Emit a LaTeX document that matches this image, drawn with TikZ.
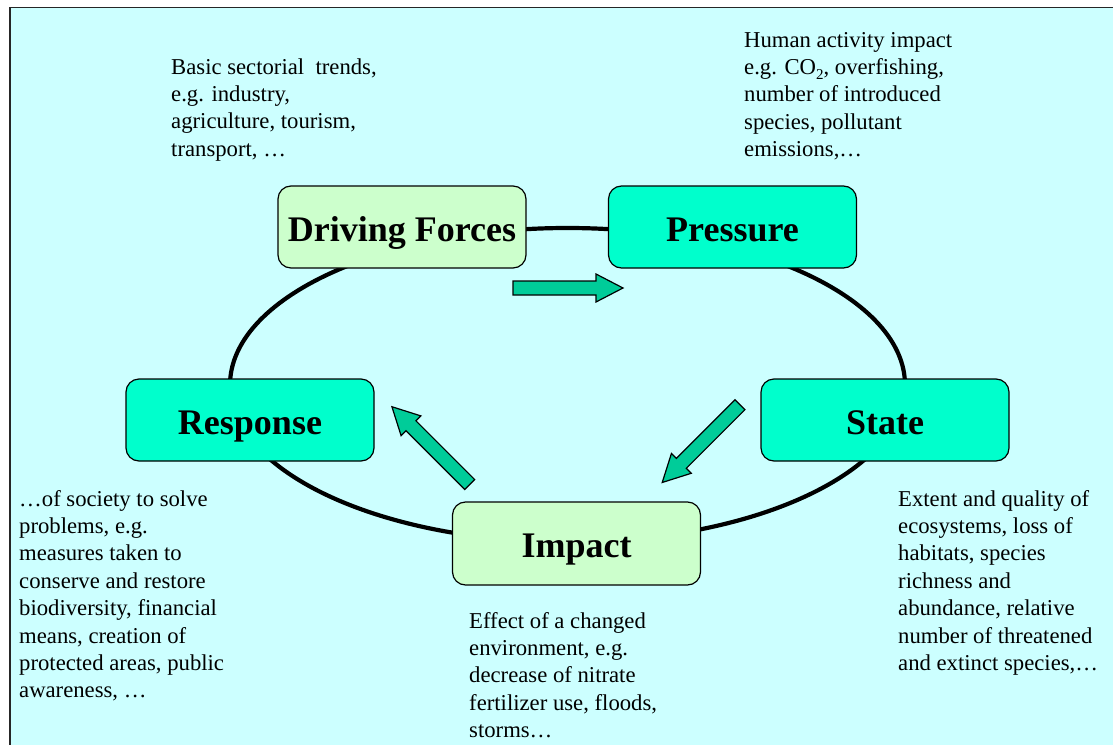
\documentclass[tikz,border=0pt]{standalone}
\usepackage{fontspec}
\setmainfont{Liberation Serif}
\definecolor{bgcyan}{HTML}{CCFFFF}
\definecolor{lightgreen}{HTML}{CCFFCC}
\definecolor{aqua}{HTML}{00FFCC}
\definecolor{arrowgreen}{HTML}{00CC99}
\newcommand{\lowsub}[1]{\raisebox{-5pt}{\fontsize{15}{15}\selectfont #1}}
\tikzset{
  x=1pt, y=-1pt,
  box/.style={draw=black, line width=1.2pt, rounded corners=13pt, minimum width=248pt, minimum height=82pt,
    inner sep=0pt, font=\fontsize{36}{40}\selectfont\bfseries, text height=30pt, text depth=2pt},
  greenbox/.style={box, fill=lightgreen},
  aquabox/.style={box, fill=aqua},
  note/.style={anchor=base west, align=left, inner sep=0pt, font=\fontsize{22.7}{27.4}\selectfont},
  cycleline/.style={line width=4.2pt, black},
  arrowstyle/.style={draw=black, line width=1.2pt, fill=arrowgreen, line join=miter},
  blockarrow/.pic={\draw[arrowstyle] (0,-7) -- (83,-7) -- (83,-14) -- (110,0) -- (83,14) -- (83,7) -- (0,7) -- cycle;}
}
\begin{document}
\begin{tikzpicture}
\useasboundingbox (0,0) rectangle (1113,744);
\clip (0,0) rectangle (1113,744);
\fill[white] (0,0) rectangle (1113,744);
\draw[fill=bgcyan, draw=black!85, line width=1.6pt] (10,7.5) rectangle (1140,770);
% cycle
\draw[cycleline] (567.5,385) ellipse [x radius=337.5pt, y radius=157pt];
% boxes
\node[greenbox] (driving) at (402,227) {Driving Forces};
\node[aquabox] (pressure) at (732.5,227) {Pressure};
\node[aquabox] (response) at (250,420) {Response};
\node[aquabox] (state) at (885,420) {State};
\node[greenbox, minimum height=83pt] (impact) at (576.5,543.5) {Impact};
% block arrows
\path (513,288) pic {blockarrow};
\path (740,404.7) pic[rotate=225] {blockarrow};
\path (469.7,484.5) pic[rotate=135] {blockarrow};
% notes (anchor = baseline of the last line)
\node[note] (ntl) at (171,156.2) {Basic sectorial\ \ trends,\\e.g. industry,\\agriculture, tourism,\\transport, \dots};
\node[note] (ntr) at (744,156.6) {Human activity impact\\e.g. CO\lowsub{2}, overfishing,\\number of introduced\\species, pollutant\\emissions,\dots};
\node[note] (nbl) at (19,697.8) {\dots of society to solve\\problems, e.g.\\measures taken to\\conserve and restore\\biodiversity, financial\\means, creation of\\protected areas, public\\awareness, \dots};
\node[note] (nbm) at (469,737.6) {Effect of a changed\\environment, e.g.\\decrease of nitrate\\fertilizer use, floods,\\storms\dots};
\node[note] (nbr) at (898,670.4) {Extent and quality of\\ecosystems, loss of\\habitats, species\\richness and\\abundance, relative\\number of threatened\\and extinct species,\dots};
\end{tikzpicture}
\end{document}
